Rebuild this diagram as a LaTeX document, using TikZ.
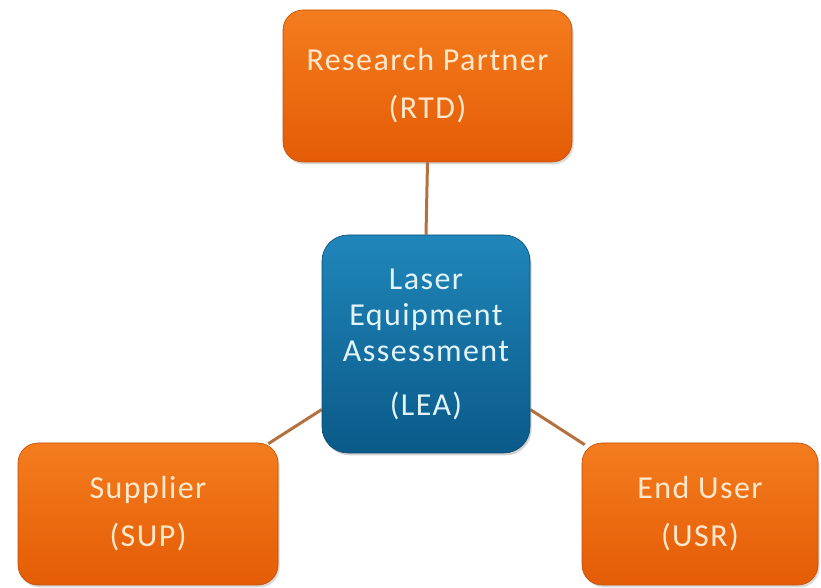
\documentclass[tikz,border=0pt]{standalone}
\usepackage{fontspec}
\setmainfont{Carlito}[LetterSpace=4.5]
\usetikzlibrary{calc, backgrounds, shadows}
\definecolor{partnerlight}{RGB}{244,124,30}
\definecolor{partnerdark}{RGB}{228,92,6}
\definecolor{hublight}{RGB}{32,134,186}
\definecolor{hubdark}{RGB}{10,90,136}
\definecolor{linkbrown}{RGB}{180,112,62}
\definecolor{creamtext}{RGB}{255,232,204}
\definecolor{icetext}{RGB}{226,244,250}

\begin{document}
\begin{tikzpicture}[x=0.5pt, y=-0.5pt,
  obox/.style={top color=partnerlight, bottom color=partnerdark,
               draw=partnerdark!85!black, line width=0.3pt, rounded corners=10pt,
               minimum height=71pt, align=center, text=creamtext,
               font=\fontsize{16}{24}\selectfont,
               drop shadow={shadow xshift=0.8pt, shadow yshift=-1.2pt, opacity=0.3}},
  bbox/.style={top color=hublight, bottom color=hubdark,
               draw=hubdark!85!black, line width=0.3pt, rounded corners=13pt,
               minimum width=104pt, minimum height=109pt, align=center, text=icetext,
               font=\fontsize{16}{18}\selectfont,
               drop shadow={shadow xshift=0.8pt, shadow yshift=-1.2pt, opacity=0.35}},
  link/.style={draw=linkbrown, line width=1.5pt}
]
  \useasboundingbox (0,0) rectangle (821,588);

  \node[obox, minimum width=144.5pt, minimum height=76pt] (RTD) at (427.5,86)
       {Research Partner\\(RTD)};
  \node[bbox] (LEA) at (426,344)
       {Laser\\Equipment\\Assessment\\[9pt](LEA)};
  \node[obox, minimum width=130pt] (SUP) at (148,514) {Supplier\\(SUP)};
  \node[obox, minimum width=118pt] (USR) at (700,514) {End User\\(USR)};

  \begin{scope}[on background layer]
    \draw[link] (RTD.south) -- (LEA.north);
    \draw[link] ($(LEA.south west)!0.2!(LEA.north west)$) -- ($(SUP.north east)+(-10,1)$);
    \draw[link] ($(LEA.south east)!0.2!(LEA.north east)$) -- ($(USR.north west)+(3,2)$);
  \end{scope}
\end{tikzpicture}
\end{document}
